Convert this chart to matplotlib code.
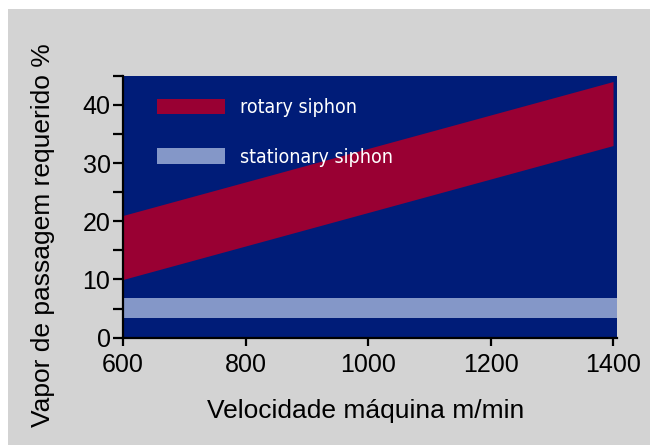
import matplotlib
matplotlib.use("Agg")
import matplotlib.pyplot as plt
from matplotlib.patches import Patch, Rectangle

# steam requirement vs machine speed
speed = [600, 1400]
rotary_low = [10, 33]
rotary_high = [21, 44]
stationary_low = 3.3
stationary_high = 6.9
xticks = [600, 800, 1000, 1200, 1400]
yticks = [0, 10, 20, 30, 40]

navy = "#001c78"
wine = "#990033"
pale = "#8497c8"
grey = "#d3d3d3"

plt.rcParams["font.family"] = ["Liberation Sans", "DejaVu Sans"]

fig = plt.figure(figsize=(6.5, 4.45), dpi=100)
fig.patch.set_facecolor("white")
fig.patches.append(Rectangle((8 / 650, 0), 1, 1 - 9 / 445, transform=fig.transFigure,
                             facecolor=grey, edgecolor="none", zorder=-10))

ax = fig.add_axes([123 / 650, 1 - 337.7 / 445, 493.7 / 650, 262 / 445])
ax.set_facecolor(navy)

ax.axhspan(stationary_low, stationary_high, color=pale, lw=0)
ax.fill_between(speed, rotary_low, rotary_high, color=wine, lw=0)

ax.set_xlim(600, 1406)
ax.set_ylim(0, 45)
ax.set_xticks(xticks)
ax.set_yticks(yticks)
ax.set_yticks([5, 15, 25, 35, 45], minor=True)

for s in ("top", "right"):
    ax.spines[s].set_visible(False)
for s in ("left", "bottom"):
    ax.spines[s].set_linewidth(1.6)
    ax.spines[s].set_color("black")

ax.tick_params(axis="both", which="both", direction="out", width=1.6, labelsize=18)
ax.tick_params(axis="y", which="both", length=7, pad=2)
ax.tick_params(axis="x", which="both", length=6, pad=5)

ax.set_xlabel("Velocidade máquina m/min", fontsize=19, va="center")
ax.xaxis.set_label_coords(0.492, -0.28)
ax.set_ylabel("Vapor de passagem requerido %", fontsize=19, va="center")
ax.yaxis.set_label_coords(-0.162, 0.392)

handles = [Patch(facecolor=wine, edgecolor="none"), Patch(facecolor=pale, edgecolor="none")]
leg = ax.legend(handles, ["rotary siphon", "stationary siphon"], loc="upper left",
                bbox_to_anchor=(0.053, 0.943), frameon=False,
                prop={"family": "DejaVu Sans", "stretch": "condensed", "size": 14},
                handlelength=3.5, handleheight=0.85, handletextpad=0.75,
                labelspacing=1.55, borderaxespad=0)
for t in leg.get_texts():
    t.set_color("white")

fig.savefig("out.png", dpi=100)
